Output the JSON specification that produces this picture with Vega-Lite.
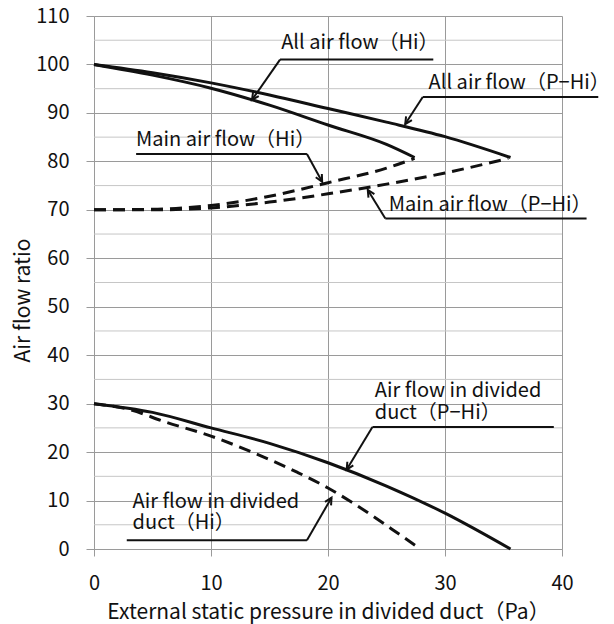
{
  "$schema": "https://vega.github.io/schema/vega-lite/v6.json",
  "width": 468,
  "height": 533,
  "autosize": {"type": "none"},
  "padding": {"left": 94, "top": 16, "right": 52, "bottom": 75},
  "background": "white",
  "config": {
    "font": "Noto Sans CJK JP",
    "view": {"stroke": null}
  },
  "datasets": {
    "curves": [
      {"series": "allPHi", "p": 0, "r": 100},
      {"series": "allPHi", "p": 5, "r": 98.3},
      {"series": "allPHi", "p": 10, "r": 96.2},
      {"series": "allPHi", "p": 15, "r": 93.7},
      {"series": "allPHi", "p": 20, "r": 90.9},
      {"series": "allPHi", "p": 25, "r": 88.1},
      {"series": "allPHi", "p": 30, "r": 85.1},
      {"series": "allPHi", "p": 35.6, "r": 80.8},
      {"series": "allHi", "p": 0, "r": 100},
      {"series": "allHi", "p": 5, "r": 97.8},
      {"series": "allHi", "p": 10, "r": 95.1},
      {"series": "allHi", "p": 15, "r": 91.6},
      {"series": "allHi", "p": 20, "r": 87.5},
      {"series": "allHi", "p": 25, "r": 83.5},
      {"series": "allHi", "p": 27.4, "r": 80.8},
      {"series": "mainHi", "p": 0, "r": 70},
      {"series": "mainHi", "p": 5, "r": 70.1},
      {"series": "mainHi", "p": 10, "r": 70.9},
      {"series": "mainHi", "p": 15, "r": 72.8},
      {"series": "mainHi", "p": 20, "r": 75.6},
      {"series": "mainHi", "p": 25, "r": 78.6},
      {"series": "mainHi", "p": 27.4, "r": 80.6},
      {"series": "mainPHi", "p": 0, "r": 70},
      {"series": "mainPHi", "p": 5, "r": 70.0},
      {"series": "mainPHi", "p": 10, "r": 70.4},
      {"series": "mainPHi", "p": 15, "r": 71.6},
      {"series": "mainPHi", "p": 20, "r": 73.3},
      {"series": "mainPHi", "p": 25, "r": 75.3},
      {"series": "mainPHi", "p": 30, "r": 77.6},
      {"series": "mainPHi", "p": 35.4, "r": 80.6},
      {"series": "divPHi", "p": 0, "r": 30},
      {"series": "divPHi", "p": 5, "r": 28.2},
      {"series": "divPHi", "p": 10, "r": 25.0},
      {"series": "divPHi", "p": 15, "r": 21.8},
      {"series": "divPHi", "p": 20, "r": 17.8},
      {"series": "divPHi", "p": 25, "r": 13.0},
      {"series": "divPHi", "p": 30, "r": 7.4},
      {"series": "divPHi", "p": 35.6, "r": 0},
      {"series": "divHi", "p": 0, "r": 30},
      {"series": "divHi", "p": 3, "r": 28.8},
      {"series": "divHi", "p": 6, "r": 26.3},
      {"series": "divHi", "p": 10, "r": 23.3},
      {"series": "divHi", "p": 13.4, "r": 20.1},
      {"series": "divHi", "p": 17.4, "r": 15.8},
      {"series": "divHi", "p": 20, "r": 12.6},
      {"series": "divHi", "p": 22, "r": 9.7},
      {"series": "divHi", "p": 25.4, "r": 4.2},
      {"series": "divHi", "p": 27.9, "r": 0}
    ],
    "minor": [
      {"v": 5}, {"v": 15}, {"v": 25}, {"v": 35}, {"v": 45}, {"v": 55},
      {"v": 65}, {"v": 75}, {"v": 85}, {"v": 95}, {"v": 105}
    ],
    "leaders": [
      {"id": "A1", "fx": 29.0, "cx": 15.9, "cy": 101.0, "tx": 13.5, "ty": 92.7},
      {"id": "A2", "fx": 43.1, "cx": 28.1, "cy": 93.3, "tx": 26.6, "ty": 87.7},
      {"id": "A3", "fx": 3.6, "cx": 18.2, "cy": 81.5, "tx": 19.5, "ty": 75.8},
      {"id": "A4", "fx": 42.1, "cx": 24.9, "cy": 68.2, "tx": 23.4, "ty": 74.1},
      {"id": "A5", "fx": 39.3, "cx": 23.8, "cy": 25.2, "tx": 21.6, "ty": 16.4},
      {"id": "A6", "fx": 2.8, "cx": 18.2, "cy": 1.8, "tx": 20.3, "ty": 10.6}
    ],
    "labels": [
      {"t": ["All air flow（Hi）"], "lx": 16.0, "ly": 104.4},
      {"t": ["All air flow（P−Hi）"], "lx": 28.6, "ly": 96.1},
      {"t": ["Main air flow（Hi）"], "lx": 3.6, "ly": 84.5},
      {"t": ["Main air flow（P−Hi）"], "lx": 25.2, "ly": 71.0},
      {"t": ["Air flow in divided", "duct（P−Hi）"], "lx": 24.0, "ly": 32.6},
      {"t": ["Air flow in divided", "duct（Hi）"], "lx": 3.3, "ly": 9.7}
    ]
  },
  "layer": [
    {
      "data": {"name": "minor"},
      "mark": {"type": "rule", "color": "#c6c6c6", "strokeWidth": 1},
      "encoding": {
        "y": {
          "field": "v", "type": "quantitative",
          "scale": {"domain": [0, 110], "nice": false},
          "axis": {
            "values": [0, 10, 20, 30, 40, 50, 60, 70, 80, 90, 100, 110],
            "title": "Air flow ratio",
            "grid": true, "gridColor": "#9a9a9a", "gridWidth": 1,
            "domainColor": "#9a9a9a", "tickColor": "#9a9a9a", "tickSize": 8,
            "labelFontSize": 20, "labelPadding": 17, "labelColor": "#111111", "labelFlush": false,
            "titleFontSize": 21, "titleFontWeight": "normal", "titleColor": "#111111",
            "titleX": -71, "titleY": 284, "titleAngle": -90, "titleAlign": "center", "titleBaseline": "middle"
          }
        }
      }
    },
    {
      "data": {"name": "curves"},
      "transform": [{"filter": {"field": "series", "oneOf": ["allPHi", "allHi", "divPHi"]}}],
      "mark": {"type": "line", "color": "#111111", "strokeWidth": 3, "interpolate": "monotone", "clip": false},
      "encoding": {
        "x": {
          "field": "p", "type": "quantitative",
          "scale": {"domain": [0, 40], "nice": false},
          "axis": {
            "values": [0, 10, 20, 30, 40],
            "title": "External static pressure in divided duct（Pa）",
            "grid": true, "gridColor": "#9a9a9a", "gridWidth": 1,
            "domainColor": "#9a9a9a", "tickColor": "#9a9a9a", "tickSize": 7,
            "labelFontSize": 20, "labelPadding": 17, "labelColor": "#111111", "labelFlush": false,
            "titleFontSize": 21, "titleFontWeight": "normal", "titleColor": "#111111", "titlePadding": 8
          }
        },
        "y": {"field": "r", "type": "quantitative", "scale": {"domain": [0, 110], "nice": false}},
        "detail": {"field": "series"}
      }
    },
    {
      "data": {"name": "curves"},
      "transform": [{"filter": {"field": "series", "oneOf": ["mainPHi", "mainHi", "divHi"]}}],
      "mark": {"type": "line", "color": "#111111", "strokeWidth": 3, "strokeDash": [12, 7], "interpolate": "monotone", "clip": false},
      "encoding": {
        "x": {"field": "p", "type": "quantitative", "scale": {"domain": [0, 40], "nice": false}},
        "y": {"field": "r", "type": "quantitative", "scale": {"domain": [0, 110], "nice": false}},
        "detail": {"field": "series"}
      }
    },
    {
      "data": {"name": "leaders"},
      "mark": {"type": "rule", "color": "#111111", "strokeWidth": 2, "clip": false},
      "encoding": {
        "x": {"field": "fx", "type": "quantitative", "scale": {"domain": [0, 40], "nice": false}},
        "x2": {"field": "cx"},
        "y": {"field": "cy", "type": "quantitative", "scale": {"domain": [0, 110], "nice": false}}
      }
    },
    {
      "data": {"name": "leaders"},
      "mark": {"type": "rule", "color": "#111111", "strokeWidth": 2, "clip": false},
      "encoding": {
        "x": {"field": "cx", "type": "quantitative", "scale": {"domain": [0, 40], "nice": false}},
        "x2": {"field": "tx"},
        "y": {"field": "cy", "type": "quantitative", "scale": {"domain": [0, 110], "nice": false}},
        "y2": {"field": "ty"}
      }
    },
    {
      "data": {"name": "leaders"},
      "transform": [
        {"calculate": "atan2((datum.tx - datum.cx) * 11.7, (datum.ty - datum.cy) * 4.845) * 180 / PI", "as": "ang"}
      ],
      "mark": {"type": "point", "shape": "M-0.55,1.1L0,0L0.55,1.1", "filled": false, "stroke": "#111111", "strokeWidth": 2, "size": 160, "opacity": 1, "clip": false},
      "encoding": {
        "x": {"field": "tx", "type": "quantitative", "scale": {"domain": [0, 40], "nice": false}},
        "y": {"field": "ty", "type": "quantitative", "scale": {"domain": [0, 110], "nice": false}},
        "angle": {"field": "ang", "type": "quantitative", "scale": null}
      }
    },
    {
      "data": {"name": "labels"},
      "mark": {"type": "text", "align": "left", "baseline": "middle", "fontSize": 20, "lineHeight": 21.5, "color": "#111111", "clip": false},
      "encoding": {
        "x": {"field": "lx", "type": "quantitative", "scale": {"domain": [0, 40], "nice": false}},
        "y": {"field": "ly", "type": "quantitative", "scale": {"domain": [0, 110], "nice": false}},
        "text": {"field": "t"}
      }
    }
  ]
}
